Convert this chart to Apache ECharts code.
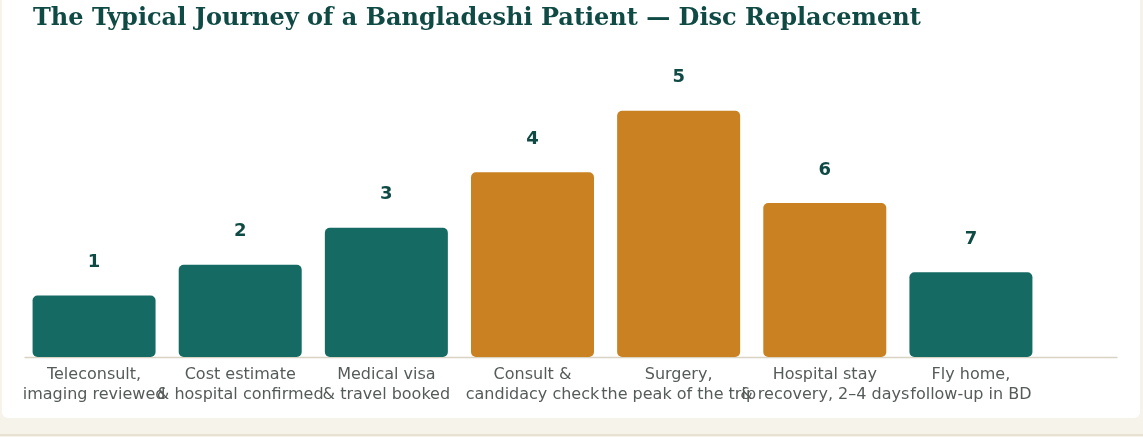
<!DOCTYPE html>
<html>
<head>
<meta charset="utf-8">
<script src="https://cdn.jsdelivr.net/npm/echarts@6/dist/echarts.min.js"></script>
<style>
  html, body { margin:0; padding:0; width:1143px; height:437px; background:#f6f3ea; overflow:hidden; }
  #card { position:absolute; left:2px; top:-8px; width:1138px; height:426px; background:#ffffff; border-radius:6px; }
  #foot { position:absolute; left:0; top:434px; width:1143px; height:2px; background:#e6e1d3; }
  #chart { position:absolute; left:0; top:0; width:1143px; height:437px; }
</style>
</head>
<body>
<div id="card"></div>
<div id="foot"></div>
<div id="chart"></div>
<script>
// ---- data ----
const titleText = 'The Typical Journey of a Bangladeshi Patient — Disc Replacement';
const categories = [
  'Teleconsult,\nimaging reviewed',
  'Cost estimate\n& hospital confirmed',
  'Medical visa\n& travel booked',
  'Consult &\ncandidacy check',
  'Surgery,\nthe peak of the trip',
  'Hospital stay\n& recovery, 2–4 days',
  'Fly home,\nfollow-up in BD'
];
const stepLabels = ['1', '2', '3', '4', '5', '6', '7'];
const intensity = [20, 30, 42, 60, 80, 50, 27.5];
const inIndia = [false, false, false, true, true, true, false];

const TEAL = '#156b64';
const ORANGE = '#c98121';
const INK = '#0f4a45';

const chart = echarts.init(document.getElementById('chart'), null, { renderer: 'canvas' });
chart.setOption({
  backgroundColor: 'transparent',
  animation: false,
  title: {
    text: titleText,
    left: 33, top: 7, padding: 0,
    textStyle: { fontFamily: 'DejaVu Serif', fontWeight: 'bold', fontSize: 24, color: INK }
  },
  grid: [
    { left: 21, width: 1023, top: 80, bottom: 80 },
    { left: 25, right: 26, top: 80, bottom: 80 }
  ],
  xAxis: [
    {
      type: 'category', gridIndex: 0, data: categories,
      axisLine: { show: false }, axisTick: { show: false },
      axisLabel: {
        interval: 0, margin: 8, fontFamily: 'DejaVu Sans', fontSize: 16,
        lineHeight: 20, color: '#555b59'
      }
    },
    {
      type: 'value', gridIndex: 1, min: 0, max: 1,
      axisLine: { show: true, lineStyle: { color: '#d9d3c3', width: 1.3 } },
      axisTick: { show: false }, axisLabel: { show: false }, splitLine: { show: false }
    }
  ],
  yAxis: [
    { type: 'value', gridIndex: 0, min: 0, max: 90, show: false },
    { type: 'value', gridIndex: 1, min: 0, max: 1, show: false }
  ],
  series: [
    {
      type: 'bar', xAxisIndex: 0, yAxisIndex: 0, z: 3,
      barWidth: 123,
      data: intensity.map((v, i) => ({
        value: v,
        itemStyle: { color: inIndia[i] ? ORANGE : TEAL, borderRadius: 5 }
      })),
      label: {
        show: true, position: 'top', distance: 24,
        formatter: p => stepLabels[p.dataIndex],
        fontFamily: 'DejaVu Sans', fontWeight: 'bold', fontSize: 18, color: INK
      }
    },
    {
      type: 'line', xAxisIndex: 1, yAxisIndex: 1, data: [], silent: true
    }
  ]
});
</script>
</body>
</html>
